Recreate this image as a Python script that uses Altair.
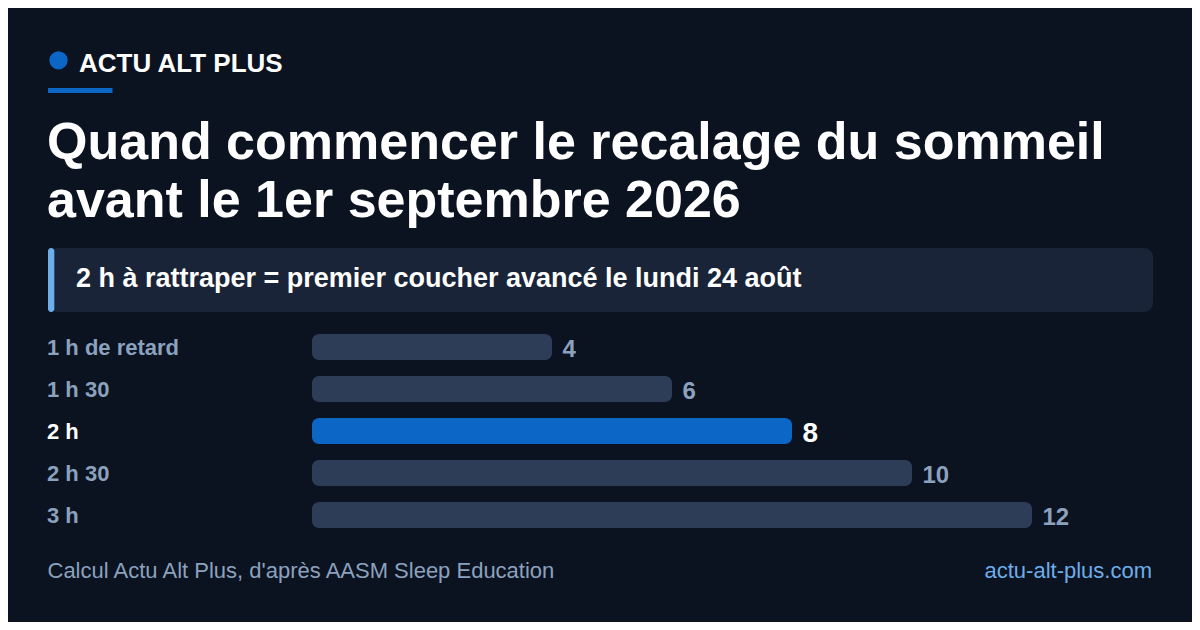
import altair as alt
import pandas as pd

# ---------------- data ----------------
categories = ["1 h de retard", "1 h 30", "2 h", "2 h 30", "3 h"]
days = [4, 6, 8, 10, 12]
highlight = "2 h"

brand = ["ACTU ALT PLUS"]
title_line1 = ["Quand commencer le recalage du sommeil"]
title_line2 = ["avant le 1er septembre 2026"]
subtitle = ["2 h à rattraper = premier coucher avancé le lundi 24 août"]
source = ["Calcul Actu Alt Plus, d'après AASM Sleep Education"]
site = ["actu-alt-plus.com"]

# ---------------- style ----------------
FONT = "Liberation Sans"
BG = "#0b1220"
BLUE = "#0b66c6"
BAR = "#2d3d57"
BOX = "#1a2438"
ACCENT = "#6caeea"
GREY = "#8ba2bf"
WHITE = "#ffffff"
O = 8  # page margin offset

df = pd.DataFrame({"cat": categories, "days": days})
is_hl = alt.datum.cat == highlight

xscale = alt.Scale(domain=[0, 12], range=[312 - O, 1032 - O], nice=False, zero=True)
yscale = alt.Scale(domain=categories, range=[326 - O, 536 - O],
                   paddingInner=16 / 42, paddingOuter=8 / 42)

X = alt.X("days:Q", scale=xscale, axis=None)
Y = alt.Y("cat:N", scale=yscale, axis=None, sort=categories)


def one(text):
    return pd.DataFrame({"t": text})


# header
dot = alt.Chart(one(brand)).mark_circle(color=BLUE, opacity=1, size=335).encode(
    x=alt.value(58.5 - O), y=alt.value(60.3 - O))
brand_t = alt.Chart(one(brand)).mark_text(
    font=FONT, fontSize=26, fontWeight="bold", color=WHITE, align="left", baseline="alphabetic"
).encode(x=alt.value(79 - O), y=alt.value(72 - O), text="t:N")
underline = alt.Chart(one(brand)).mark_rect(color=BLUE).encode(
    x=alt.value(48 - O), x2=alt.value(112.5 - O), y=alt.value(88 - O), y2=alt.value(93 - O))

t1 = alt.Chart(one(title_line1)).mark_text(
    font=FONT, fontSize=52, fontWeight="bold", color=WHITE, align="left", baseline="alphabetic"
).encode(x=alt.value(47 - O), y=alt.value(158.5 - O), text="t:N")
t2 = alt.Chart(one(title_line2)).mark_text(
    font=FONT, fontSize=52, fontWeight="bold", color=WHITE, align="left", baseline="alphabetic"
).encode(x=alt.value(47 - O), y=alt.value(217 - O), text="t:N")

box = alt.Chart(one(subtitle)).mark_rect(color=BOX, cornerRadius=9).encode(
    x=alt.value(48 - O), x2=alt.value(1153 - O), y=alt.value(248 - O), y2=alt.value(312 - O))
accent = alt.Chart(one(subtitle)).mark_rect(color=ACCENT, cornerRadius=3).encode(
    x=alt.value(48 - O), x2=alt.value(54.3 - O), y=alt.value(248 - O), y2=alt.value(312 - O))
sub_t = alt.Chart(one(subtitle)).mark_text(
    font=FONT, fontSize=27, fontWeight="bold", color=WHITE, align="left", baseline="alphabetic"
).encode(x=alt.value(76 - O), y=alt.value(286.5 - O), text="t:N")

# bars
bars = alt.Chart(df).mark_bar(cornerRadius=7).encode(
    x=X, y=Y,
    color=alt.condition(is_hl, alt.value(BLUE), alt.value(BAR)),
)
cat_labels = alt.Chart(df).mark_text(
    font=FONT, fontSize=22, fontWeight="bold", align="left", baseline="alphabetic", dy=7.5
).encode(
    x=alt.value(47 - O), y=Y, text="cat:N",
    color=alt.condition(is_hl, alt.value(WHITE), alt.value(GREY)),
)
val_labels = alt.Chart(df).mark_text(
    font=FONT, fontWeight="bold", align="left", baseline="middle", dx=10.5, dy=3
).encode(
    x=X, y=Y, text="days:Q",
    color=alt.condition(is_hl, alt.value(WHITE), alt.value(GREY)),
    size=alt.condition(is_hl, alt.value(28), alt.value(24)),
)

# footer
src_t = alt.Chart(one(source)).mark_text(
    font=FONT, fontSize=22, color=GREY, align="left", baseline="alphabetic"
).encode(x=alt.value(47.5 - O), y=alt.value(578 - O), text="t:N")
site_t = alt.Chart(one(site)).mark_text(
    font=FONT, fontSize=22, color="#6daee9", align="right", baseline="alphabetic"
).encode(x=alt.value(1152 - O), y=alt.value(578 - O), text="t:N")

chart = alt.layer(
    dot, brand_t, underline, t1, t2, box, accent, sub_t,
    bars, cat_labels, val_labels, src_t, site_t
).properties(
    width=1184, height=614, background=BG, padding=0, autosize="none"
).configure_view(stroke=None)

chart.save("out.html", embed_options={"renderer": "svg", "actions": False})
